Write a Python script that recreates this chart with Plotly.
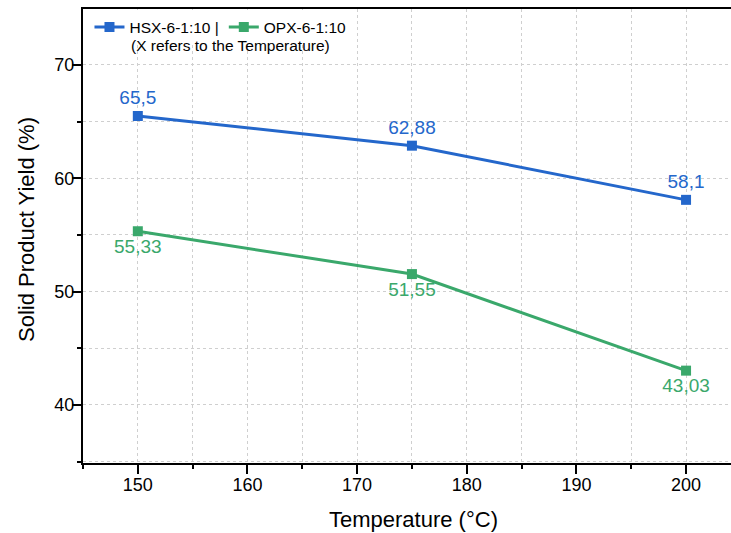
import plotly.graph_objects as go

temperature = [150, 175, 200]
hsx_yield = [65.5, 62.88, 58.1]
opx_yield = [55.33, 51.55, 43.03]
hsx_labels = ["65,5", "62,88", "58,1"]
opx_labels = ["55,33", "51,55", "43,03"]

BLUE = "#2467cb"
GREEN = "#3aa86b"
FONT = "Liberation Sans, Arial, sans-serif"

fig = go.Figure()
fig.add_trace(go.Scatter(
    x=temperature, y=hsx_yield, mode="lines+markers+text",
    name="HSX-6-1:10 |", text=hsx_labels, textposition="top center",
    textfont=dict(size=19, color=BLUE, family=FONT),
    line=dict(color=BLUE, width=3),
    marker=dict(symbol="square", size=10, color=BLUE),
))
fig.add_trace(go.Scatter(
    x=temperature, y=opx_yield, mode="lines+markers+text",
    name="OPX-6-1:10", text=opx_labels, textposition="bottom center",
    textfont=dict(size=19, color=GREEN, family=FONT),
    line=dict(color=GREEN, width=3),
    marker=dict(symbol="square", size=10, color=GREEN),
))

axis_common = dict(
    showline=True, linecolor="black", linewidth=2,
    ticks="outside", ticklen=9, tickwidth=1.5, tickcolor="black",
    showgrid=True, gridcolor="#cfcfcf", griddash="dot", gridwidth=1,
    tickfont=dict(size=18, color="black", family=FONT),
    zeroline=False, automargin=False,
)

PL, PR, PT, PB = 83, 731, 9, 463
W, H = 731, 533

def px_x(px):
    return (px - PL) / (PR - PL)

def px_y(py):
    return (PB - py) / (PB - PT)

fig.update_layout(
    width=W, height=H,
    margin=dict(l=PL, r=W - PR, t=PT, b=H - PB),
    paper_bgcolor="white", plot_bgcolor="white",
    font=dict(family=FONT, color="black"),
    showlegend=True,
    legend=dict(
        orientation="h", x=0.01, y=0.997, xanchor="left", yanchor="top",
        bgcolor="white", font=dict(size=15.5, family=FONT),
        itemwidth=30, tracegroupgap=0,
    ),
    xaxis=dict(
        range=[145, 204.1], dtick=10, tick0=150,
        minor=dict(dtick=5, ticks="outside", ticklen=4, tickcolor="black",
                   showgrid=True, gridcolor="#cfcfcf", griddash="dot"),
        mirror=True, ticklabelstandoff=-5,
        **axis_common,
    ),
    yaxis=dict(
        range=[34.88, 74.94], dtick=10, tick0=40,
        minor=dict(dtick=5, ticks="outside", ticklen=4, tickcolor="black",
                   showgrid=True, gridcolor="#cfcfcf", griddash="dot"),
        ticklabelstandoff=-6,
        **axis_common,
    ),
    annotations=[
        dict(text="(X refers to the Temperature)", xref="paper", yref="paper",
             x=px_x(230), y=px_y(46), xanchor="center", yanchor="middle",
             showarrow=False, font=dict(size=15.5, family=FONT, color="black")),
        dict(text="Temperature (°C)", xref="paper", yref="paper",
             x=px_x(413), y=px_y(519), xanchor="center", yanchor="middle",
             showarrow=False, font=dict(size=22, family=FONT, color="black")),
        dict(text="Solid Product Yield (%)", xref="paper", yref="paper",
             x=px_x(26), y=px_y(230), xanchor="center", yanchor="middle",
             textangle=-90,
             showarrow=False, font=dict(size=22, family=FONT, color="black")),
    ],
)

fig.write_html("out.html", config={"displayModeBar": False})

with open("out.html", "r", encoding="utf-8") as f:
    html = f.read()
html = html.replace(
    "<head>",
    "<head><style>html,body{margin:0;padding:0;overflow:hidden;}</style>",
    1,
)
with open("out.html", "w", encoding="utf-8") as f:
    f.write(html)
